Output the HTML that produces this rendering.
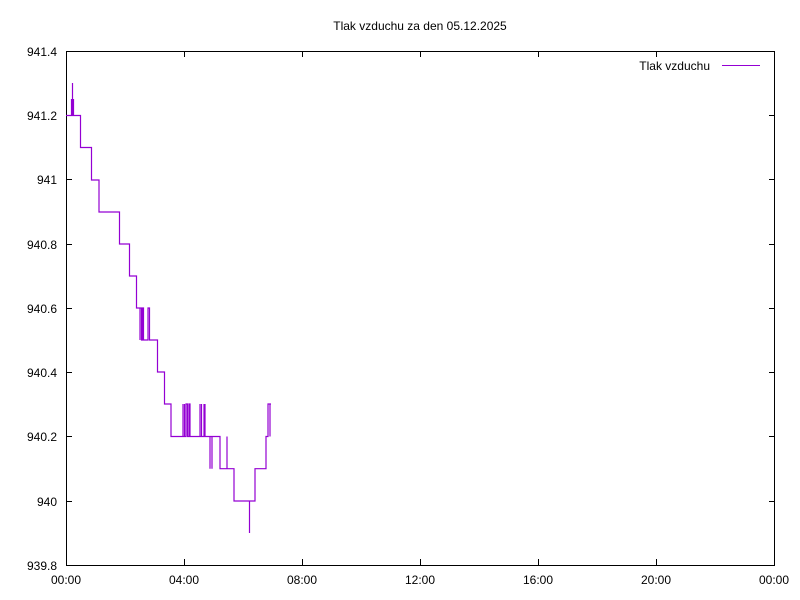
<!DOCTYPE html>
<html><head><meta charset="utf-8"><style>body{margin:0;background:#fff}svg{display:block}text{font-family:"Liberation Sans",sans-serif;font-size:12px;fill:#000}</style></head><body>
<svg width="800" height="600" viewBox="0 0 800 600">
<rect width="800" height="600" fill="#fff"/>
<text x="420" y="30" text-anchor="middle">Tlak vzduchu za den 05.12.2025</text>
<g stroke="#000" stroke-width="1" fill="none">
<rect x="66.5" y="51.5" width="708" height="514"/>
<path d="M66 115.5h6M775 115.5h-6M66 179.5h6M775 179.5h-6M66 244.5h6M775 244.5h-6M66 308.5h6M775 308.5h-6M66 372.5h6M775 372.5h-6M66 436.5h6M775 436.5h-6M66 501.5h6M775 501.5h-6
M184.5 565v-6M184.5 51v6M302.5 565v-6M302.5 51v6M420.5 565v-6M420.5 51v6M538.5 565v-6M538.5 51v6M656.5 565v-6M656.5 51v6"/>
</g>
<g text-anchor="end">
<text x="57" y="56">941.4</text><text x="57" y="120">941.2</text><text x="57" y="184">941</text><text x="57" y="249">940.8</text><text x="57" y="313">940.6</text><text x="57" y="377">940.4</text><text x="57" y="441">940.2</text><text x="57" y="506">940</text><text x="57" y="570">939.8</text>
</g>
<g text-anchor="middle">
<text x="66" y="584">00:00</text><text x="184" y="584">04:00</text><text x="302" y="584">08:00</text><text x="420" y="584">12:00</text><text x="538" y="584">16:00</text><text x="656" y="584">20:00</text><text x="774" y="584">00:00</text>
</g>
<text x="710" y="70" text-anchor="end">Tlak vzduchu</text>
<path d="M722 65.5h38" stroke="#9400d3" stroke-width="1"/>
<path fill="none" stroke="#9400d3" stroke-width="1.2" d="
M66 115.5H71.5V99V115.5H72.5V83V115.5H73.5V99V115.5H80.5V147.5H91.5V180H99V212H119.5V244H129.5V276H136.5V308H140V340V308H141.5V340H142.5V308H143.5V340H145V340H148V308H149.5V340H157.5V372H164.5V404H171V436.5H183V404V436.5H184.5V404V436.5H186V404H187.5V436.5H189V404H190V436.5H200V404V436.5H201.5V404V436.5H204V404V436.5H205V404V436.5H210V468.7V436.5H212V468.7V436.5H218V436.5H220V468.7H227V436.5V468.7H229V468.7H234V501H249.5V517V533V501H252.5V501H255V468.7H266V436.5H268V404H270V436.5V404H271V404"/>
</svg>
</body></html>
